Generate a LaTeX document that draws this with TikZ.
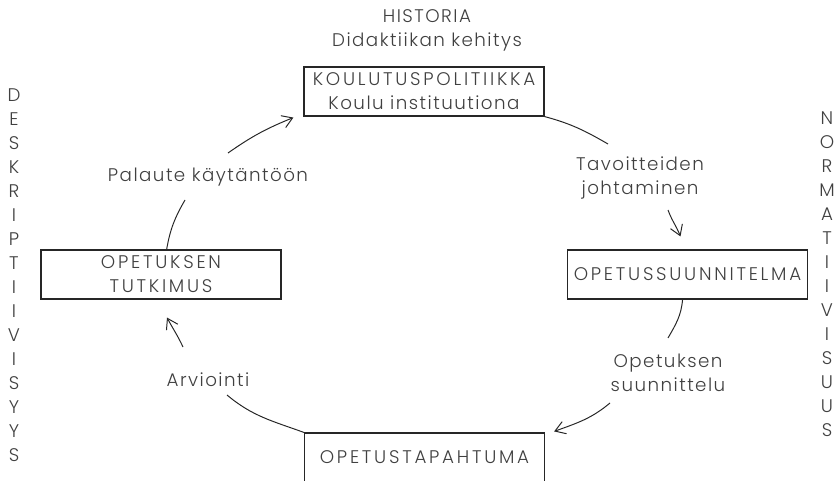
\documentclass[tikz,border=0pt]{standalone}
\usepackage{fontspec}
\setmainfont{Poppins Light}[LetterSpace=8]
\usepackage{xcolor}
\usetikzlibrary{arrows.meta,positioning,calc}
\newcommand{\wide}[1]{{\addfontfeatures{LetterSpace=15}#1}}

\begin{document}
\begin{tikzpicture}[x=0.025cm,y=0.025cm,
  every node/.style={font=\fontsize{13}{17}\selectfont,text=black!75,align=center},
  box/.style={draw=black!85,line width=0.8pt,minimum width=6cm,minimum height=1.225cm,inner sep=0pt},
  link/.style={line width=0.7pt,black!85},
  arr/.style={link,-{Straight Barb[length=2.5mm,width=3.2mm]}}]
  \useasboundingbox (0,0) rectangle (840,480);
  % cycle of the four boxes, with the side texts
  \node (hist) at (427,450) {HISTORIA\\Didaktiikan kehitys};
  \node[box] (kp) at (424,388.5) {\wide{KOULUTUSPOLITIIKKA}\\Koulu instituutiona};
  \node[box] (ops) at (687.5,205.5) {\wide{OPETUSSUUNNITELMA}};
  \node[box] (ot) at (161,205.5) {\wide{OPETUKSEN}\\\wide{TUTKIMUS}};
  \node[box] (opt) at (424.5,22.5) {\wide{OPETUSTAPAHTUMA}};
  \node (tav) at (640,302) {Tavoitteiden\\johtaminen};
  \node (osu) at (668,107) {Opetuksen\\suunnittelu};
  \node (arv) at (208,100) {Arviointi};
  \node (pal) at (208,303) {Palaute käytäntöön};
  % vertical words, one letter each
  \foreach \ch [count=\i from 0] in {D,E,S,K,R,I,P,T,I,I,V,I,S,Y,Y,S}
    \node (desk\i) at (14,385-24*\i) {\ch};
  \foreach \ch [count=\i from 0] in {N,O,R,M,A,T,I,I,V,I,S,U,U,S}
    \node (norm\i) at (827,362-24*\i) {\ch};
  \coordinate (c1) at (608,336);
  \coordinate (c2) at (668,270);
  \coordinate (c3) at (668,142);
  \coordinate (c4) at (610,77);
  \coordinate (c5) at (227,85);
  \coordinate (c6) at (183,133);
  \coordinate (c7) at (185,280);
  \coordinate (c8) at (228,327);
  \draw[link] (kp.south east) to[out=-15,in=150] (c1);
  \draw[arr] (c2) to[out=-70,in=112] ([shift={(-7,13)}]ops.north);
  \draw[link] ([xshift=-3.5]ops.south) to[out=-95,in=60] (c3);
  \draw[arr] (c4) to[out=-140,in=20] ([shift={(9,1)}]opt.north east);
  \draw[link] (opt.north west) to[out=160,in=-40] (c5);
  \draw[arr] (c6) to[out=115,in=-62] ([shift={(6,-18)}]ot.south);
  \draw[link] ([xshift=4]ot.north) to[out=80,in=-120] (c7);
  \draw[arr] (c8) to[out=35,in=-158] ([shift={(-10,-1)}]kp.south west);
\end{tikzpicture}
\end{document}
